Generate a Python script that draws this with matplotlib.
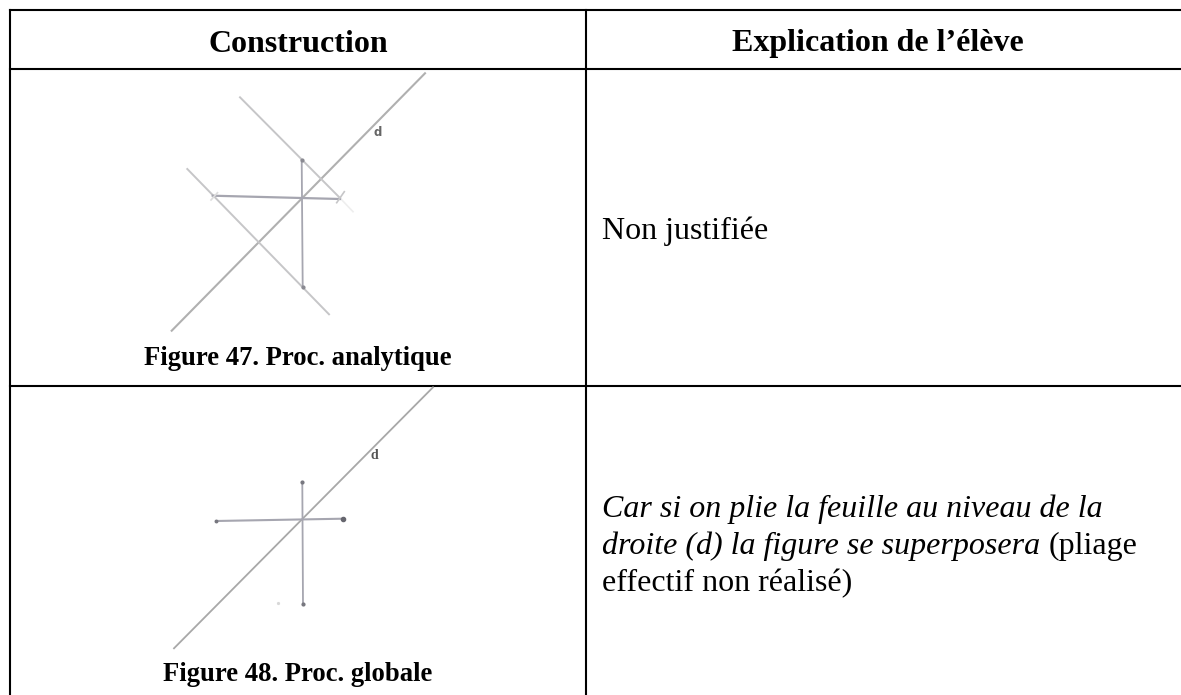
import matplotlib
matplotlib.use('Agg')
import matplotlib.pyplot as plt

#table grid, in image pixels
col_edges = [10, 586]
row_edges = [10, 69, 385.7]
table_bottom = 695
table_right = 1181

headers = ['Construction', 'Explication de l’élève']
captions = ['Figure 47. Proc. analytique', 'Figure 48. Proc. globale']

#sketch 47
d47_x = [171.7, 425]
d47_y = [330.7, 73.3]
perp1_x = [240, 340]
perp1_y = [97.3, 198]
perp2_x = [187.3, 329]
perp2_y = [169, 314.3]
vert47_x = [301.7, 302.7]
vert47_y = [160, 286.7]
horiz47_x = [212.7, 340]
horiz47_y = [195.7, 199]
tick_r_x = [336.7, 344.3]
tick_r_y = [202.7, 191.7]
tick_l_x = [211, 217.5]
tick_l_y = [200, 192.7]
faint_x = [340, 353]
faint_y = [198, 211.7]

#sketch 48
d48_x = [174, 433]
d48_y = [648.3, 387.3]
vert48_x = [302.3, 303]
vert48_y = [482.3, 604]
horiz48_x = [216, 342.7]
horiz48_y = [521, 518.7]
speck_x = [278.3]
speck_y = [603.3]

plt.rcParams['font.family'] = ['Liberation Serif', 'DejaVu Serif']

fig = plt.figure(figsize=(11.81, 6.95), dpi=100)
ax = fig.add_axes([0, 0, 1, 1])
ax.set_xlim(0, 1181)
ax.set_ylim(695, 0)
ax.axis('off')

#grid lines, no right or bottom border in the reference
for x in col_edges:
    ax.plot([x, x], [row_edges[0], table_bottom], color='black', lw=1.5, solid_capstyle='projecting')
for y in row_edges:
    ax.plot([col_edges[0], table_right], [y, y], color='black', lw=1.5, solid_capstyle='projecting')

#headers
ax.text(298, 51.5, headers[0], fontsize=23, fontweight='bold', ha='center', va='baseline')
ax.text(878, 51.5, headers[1], fontsize=23, fontweight='bold', ha='center', va='baseline')

#construction sketches, pale and a bit wide since the scan is blurred
pale = '#c6c6c8'
mid = '#a6a6b0'
ax.plot(d47_x, d47_y, color='#b0b0b0', lw=1.5)
ax.plot(perp1_x, perp1_y, color=pale, lw=1.4)
ax.plot(perp2_x, perp2_y, color=pale, lw=1.4)
ax.plot(faint_x, faint_y, color='#eeeeee', lw=1.2)
ax.plot(vert47_x, vert47_y, color=mid, lw=1.3)
ax.plot(horiz47_x, horiz47_y, color=mid, lw=1.6)
ax.plot(tick_r_x, tick_r_y, color=pale, lw=1.2)
ax.plot(tick_l_x, tick_l_y, color='#dddddd', lw=1.2)
ax.plot(vert47_x, vert47_y, ls='none', marker='o', ms=2, color='#8a8a92')
ax.text(377.3, 132.7, 'd', fontsize=8.5, color='#666666', ha='center', va='center', family='DejaVu Sans', fontweight='bold')

ax.plot(d48_x, d48_y, color='#a8a8a8', lw=1.3)
ax.plot(vert48_x, vert48_y, color=mid, lw=1.3)
ax.plot(horiz48_x, horiz48_y, color=mid, lw=1.5)
ax.plot(vert48_x, vert48_y, ls='none', marker='o', ms=2, color='#77777f')
ax.plot(horiz48_x[0], horiz48_y[0], ls='none', marker='o', ms=1.8, color='#77777f')
ax.plot(horiz48_x[1], horiz48_y[1], ls='none', marker='o', ms=3, color='#66666e')
ax.plot(speck_x, speck_y, ls='none', marker='o', ms=1.3, color='#d8d8d8')
ax.text(374.3, 455.7, 'd', fontsize=10, color='#555555', ha='center', va='center', fontweight='bold')

#captions
ax.text(298, 365.3, captions[0], fontsize=19.2, fontweight='bold', ha='center', va='baseline')
ax.text(298, 680.7, captions[1], fontsize=19.2, fontweight='bold', ha='center', va='baseline')

#right column text
ax.text(602, 239, 'Non justifiée', fontsize=23, va='baseline')
ax.text(602, 517.3, 'Car si on plie la feuille au niveau de la', fontsize=23, style='italic', va='baseline')
ax.text(602, 554, 'droite (d) la figure se superposera', fontsize=23, style='italic', va='baseline')
ax.text(1049, 554, '(pliage', fontsize=23, va='baseline')
ax.text(602, 591, 'effectif non réalisé)', fontsize=23, va='baseline')

fig.savefig('out.png', dpi=100)
